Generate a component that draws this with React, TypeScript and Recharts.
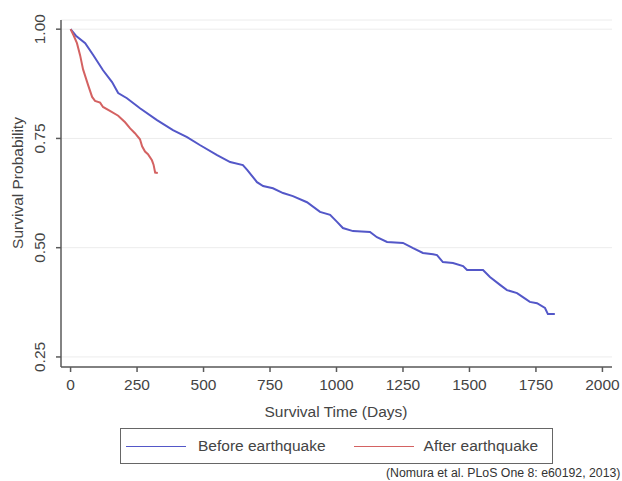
import { LineChart, Line, CartesianGrid, XAxis, YAxis, Label } from "recharts";

// Kaplan-Meier readings (days, survival probability)
const beforeDays = [0, 20, 55, 85, 122, 156, 179, 212, 261, 325, 385, 438, 486, 551, 600, 648, 664, 701, 724, 761, 799, 836, 889, 938, 976, 1002, 1024, 1062, 1126, 1152, 1190, 1250, 1288, 1325, 1363, 1378, 1400, 1438, 1476, 1491, 1551, 1577, 1615, 1641, 1679, 1701, 1727, 1754, 1784, 1795, 1821];
const beforeSurv = [1.0, 0.985, 0.968, 0.941, 0.906, 0.879, 0.854, 0.842, 0.819, 0.792, 0.769, 0.753, 0.735, 0.712, 0.696, 0.689, 0.678, 0.65, 0.641, 0.636, 0.625, 0.618, 0.604, 0.582, 0.575, 0.559, 0.545, 0.538, 0.536, 0.524, 0.513, 0.511, 0.499, 0.488, 0.485, 0.483, 0.467, 0.465, 0.458, 0.449, 0.449, 0.433, 0.415, 0.403, 0.396, 0.387, 0.376, 0.373, 0.362, 0.348, 0.348];

const afterDays = [0, 12, 24, 36, 47, 66, 81, 92, 111, 122, 148, 179, 205, 224, 242, 261, 269, 280, 291, 306, 312, 318, 328];
const afterSurv = [1.0, 0.985, 0.968, 0.94, 0.908, 0.872, 0.845, 0.836, 0.832, 0.822, 0.813, 0.802, 0.787, 0.773, 0.762, 0.748, 0.732, 0.72, 0.714, 0.7, 0.69, 0.672, 0.671];

const xTicks = [0, 250, 500, 750, 1000, 1250, 1500, 1750, 2000];
const yTicks = [0.25, 0.5, 0.75, 1.0];

const series = [
  { name: "Before earthquake", color: "#5357c8", days: beforeDays, surv: beforeSurv },
  { name: "After earthquake", color: "#d46262", days: afterDays, surv: afterSurv },
];

const toRows = (days: number[], surv: number[]) => days.map((day, i) => ({ day, surv: surv[i] }));

const FONT = "'Liberation Sans', Arial, sans-serif";
const TXT = "#444";
const AXIS = "#5a5a5a";

function YTick(props: any) {
  const { x, y, payload } = props;
  return (
    <text x={x} y={y} transform={`rotate(-90, ${x}, ${y})`} textAnchor="middle" fill={TXT} fontSize={15.5} fontFamily={FONT}>
      {Number(payload.value).toFixed(2)}
    </text>
  );
}

export default function App() {
  return (
    <div style={{ position: "absolute", left: 0, top: 0, width: 622, height: 481, overflow: "hidden", background: "#fff", fontFamily: FONT }}>
      <LineChart width={622} height={481} margin={{ top: 20, right: 10, left: 0, bottom: 54 }}>
        <CartesianGrid horizontal vertical={false} stroke="#ececec" />
        <XAxis
          type="number"
          dataKey="day"
          domain={[-36, 2036]}
          ticks={xTicks}
          allowDataOverflow
          height={60}
          tickSize={5}
          tickMargin={7}
          stroke={AXIS}
          strokeWidth={1.5}
          tick={{ fill: TXT, fontSize: 15.5, fontFamily: FONT }}
        >
          <Label
            content={() => (
              <text x={336} y={417} textAnchor="middle" fill={TXT} fontSize={15.5} fontFamily={FONT}>
                Survival Time (Days)
              </text>
            )}
          />
        </XAxis>
        <YAxis
          type="number"
          domain={[0.227, 1.021]}
          ticks={yTicks}
          allowDataOverflow
          width={61}
          tickSize={5}
          tickMargin={11}
          stroke={AXIS}
          strokeWidth={1.5}
          tick={<YTick />}
        >
          <Label
            content={() => (
              <text x={23} y={183} transform="rotate(-90, 23, 183)" textAnchor="middle" fill={TXT} fontSize={15.5} fontFamily={FONT}>
                Survival Probability
              </text>
            )}
          />
        </YAxis>
        {series.map((s) => (
          <Line
            key={s.name}
            data={toRows(s.days, s.surv)}
            dataKey="surv"
            name={s.name}
            type="linear"
            stroke={s.color}
            strokeWidth={2}
            dot={false}
            isAnimationActive={false}
          />
        ))}
      </LineChart>
      <div
        style={{
          position: "absolute",
          left: 120,
          top: 428,
          width: 431,
          height: 34,
          border: "1.5px solid #666",
          display: "flex",
          alignItems: "center",
          fontSize: 15.5,
          color: TXT,
        }}
      >
        {series.map((s, i) => (
          <div key={s.name} style={{ display: "flex", alignItems: "center", marginLeft: i === 0 ? 5 : 28 }}>
            <div style={{ width: 60, height: 0, borderTop: `1.5px solid ${s.color}`, marginRight: i === 0 ? 12 : 10 }} />
            <span>{s.name}</span>
          </div>
        ))}
      </div>
      <div style={{ position: "absolute", left: 386, top: 466, fontSize: 12.3, color: "#333", whiteSpace: "nowrap" }}>
        (Nomura et al. PLoS One 8: e60192, 2013)
      </div>
    </div>
  );
}
